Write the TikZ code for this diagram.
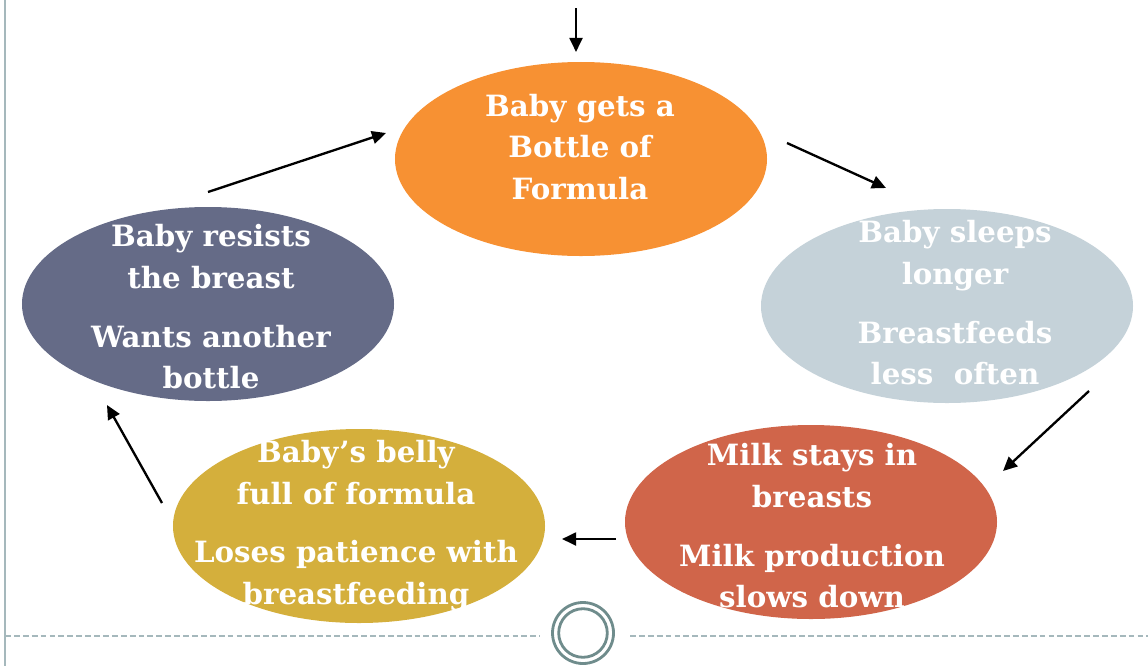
\documentclass[tikz,border=0pt]{standalone}
\usepackage{fontspec}
\setmainfont{DejaVu Serif}
\usetikzlibrary{shapes.geometric,arrows.meta}

\definecolor{bottleorange}{HTML}{F79133}
\definecolor{sleepgray}{HTML}{C5D2D9}
\definecolor{milkred}{HTML}{D0654A}
\definecolor{bellyyellow}{HTML}{D4AF3C}
\definecolor{resistslate}{HTML}{656B87}
\definecolor{slideline}{HTML}{A5B8BC}
\definecolor{slidering}{HTML}{6F8C8C}

\tikzset{
  blob/.style={ellipse, minimum width=11.16cm, minimum height=5.82cm, inner sep=0pt},
  words/.style={text=white, font=\bfseries\fontsize{25}{35.7}\selectfont, align=center, inner sep=0pt},
  link/.style={->, line width=2pt}
}

\begin{document}
\begin{tikzpicture}[x=0.03cm, y=-0.03cm, >={Triangle[length=12pt,width=11pt]}]
  \useasboundingbox (0,0) rectangle (1148,666);

  % slide frame
  \draw[slideline, line width=0.9pt] (5,0) -- (5,666);
  \draw[slideline, line width=1.1pt, dash pattern=on 5pt off 2.6pt] (5,636) -- (540,636);
  \draw[slideline, line width=1.1pt, dash pattern=on 5pt off 2.6pt] (630,636) -- (1148,636);
  \draw[slidering, line width=2.4pt] (583,633) circle (30.5);
  \draw[slidering, line width=2.4pt] (583,633) circle (24.3);

  % Ellipses
  \node[blob, fill=bottleorange] (bottle) at (581,159) {};
  \node[blob, fill=sleepgray] (sleeps) at (947,306) {};
  \node[blob, fill=milkred] (milk) at (811,522) {};
  \node[blob, fill=bellyyellow] (belly) at (359,526) {};
  \node[blob, fill=resistslate] (resists) at (208,304) {};

  % Texts
  \node[words] (bottletext) at (580,147) {Baby gets a\\Bottle of\\Formula};
  \node[words] (sleepstext) at (955,303) {Baby sleeps\\longer\\[14pt]Breastfeeds\\less~ often};
  \node[words] (milktext) at (812,526) {Milk stays in\\breasts\\[14pt]Milk production\\slows down};
  \node[words] (bellytext) at (356,526) {Baby’s belly\\full of formula\\[14pt]Loses patience with\\breastfeeding};
  \node[words] (resiststext) at (211,307) {Baby resists\\the breast\\[14pt]Wants another\\bottle};

  % Arrows
  \coordinate (start) at (576,8);
  \draw[link] (start) -- ([shift={(-5,-107)}]bottle.center);
  \draw[link] ([shift={(206,-16)}]bottle.center) -- ([shift={(-61,-118)}]sleeps.center);
  \draw[link] ([shift={(142,85)}]sleeps.center) -- ([shift={(192,-51)}]milk.center);
  \draw[link] ([shift={(-195,17)}]milk.center) -- ([shift={(203,13)}]belly.center);
  \draw[link] ([shift={(-197,-23)}]belly.center) -- ([shift={(-101,101)}]resists.center);
  \draw[link] ([shift={(0,-112)}]resists.center) -- ([shift={(-195,-26)}]bottle.center);
\end{tikzpicture}
\end{document}
